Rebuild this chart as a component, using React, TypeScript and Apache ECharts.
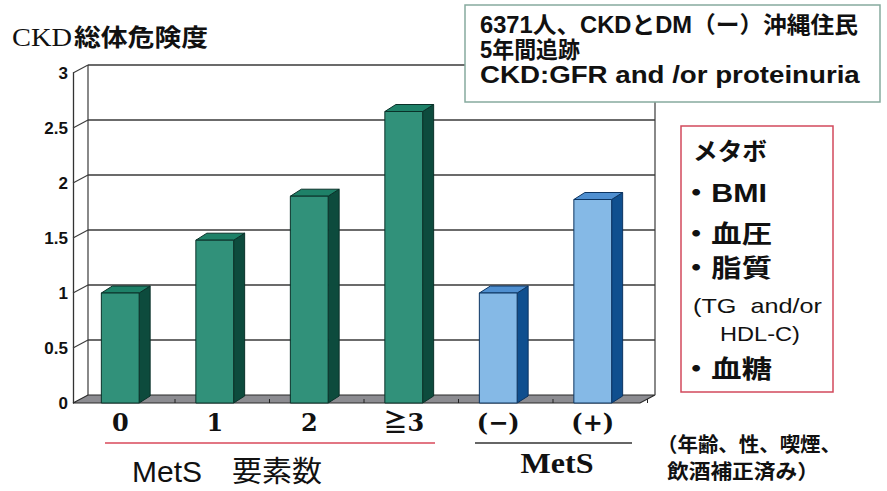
import React, { useEffect, useRef } from "react";
import * as echarts from "echarts";

const categories = ["0", "1", "2", "≧3", "(−)", "(+)"];
const riskValues = [1.0, 1.48, 1.88, 2.65, 1.0, 1.85];
const colorGroup = ["count", "count", "count", "count", "mets", "mets"];
const yTicks = [0, 0.5, 1, 1.5, 2, 2.5, 3];
const yTickLabels = ["0", "0.5", "1", "1.5", "2", "2.5", "3"];

const boxLines = ["6371人、CKDとDM（ー）沖縄住民", "5年間追跡", "CKD:GFR and /or proteinuria"];
const metsItems = ["メタボ", "・BMI", "・血圧", "・脂質", "(TG  and/or", "HDL-C)", "・血糖"];
const noteLines = ["（年齢、性、喫煙、", "飲酒補正済み）"];
const titleParts = ["CKD", "総体危険度"];
const groupLabels = ["MetS　要素数", "MetS"];

const PALETTE: Record<string, { front: string; top: string; side: string; edge: string }> = {
  count: { front: "#31917a", top: "#1e8168", side: "#0d4b3d", edge: "#0a3129" },
  mets: { front: "#85b9e6", top: "#4f8fd0", side: "#0f4f8f", edge: "#0c3461" },
};

const WDX = 15;
const WDY = -8;
const BDX = 11;
const BDY = -7;

const SANS = "'Liberation Sans', 'Noto Sans CJK JP', sans-serif";
const SERIF = "'Liberation Serif', 'Noto Sans CJK JP', serif";
const WIDE_SERIF = "'DejaVu Serif', 'Noto Sans CJK JP', serif";

function fit(text: string, weight: string, size: number, family: string, target: number) {
  try {
    const ctx = document.createElement("canvas").getContext("2d")!;
    ctx.font = `${weight} ${size}px ${family}`;
    const w = ctx.measureText(text).width;
    return w > 0 ? target / w : 1;
  } catch (e) {
    return 1;
  }
}

function txt(text: string, x: number, y: number, size: number, weight: string, family: string, target: number | null, align: string = "left") {
  const s = target ? fit(text, weight, size, family, target) : 1;
  return {
    type: "text",
    x,
    y,
    scaleX: s,
    z: 110,
    style: {
      text,
      fontSize: size,
      fontWeight: weight,
      fontFamily: family,
      fill: "#111",
      align,
      textAlign: align,
      verticalAlign: "middle",
      textVerticalAlign: "middle",
    },
  };
}

export default function App() {
  const ref = useRef<HTMLDivElement>(null);
  useEffect(() => {
    const chart = echarts.init(ref.current!, null, { renderer: "svg" });
    const n = categories.length;
    const yMax = yTicks[yTicks.length - 1];

    const frameRender = (params: any, api: any) => {
      const v = api.value(1);
      const band = api.size([1, 0])[0];
      const p = api.coord([0, v]);
      const pe = api.coord([n - 1, v]);
      const base = api.coord([0, 0])[1];
      const x0 = p[0] - band / 2;
      const x1 = pe[0] + band / 2;
      const y = p[1];
      const children: any[] = [];
      if (v === 0) {
        children.push({
          type: "polygon",
          shape: { points: [[x0, y], [x1, y], [x1 + WDX, y + WDY], [x0 + WDX, y + WDY]] },
          style: { fill: "#8c8c91", stroke: "#2a2a2a", lineWidth: 1.2 },
        });
        for (let k = 1; k <= n; k++) {
          const tx = x0 + k * band + WDX / 2;
          children.push({
            type: "line",
            shape: { x1: tx, y1: y + WDY / 2, x2: tx, y2: y + WDY / 2 + 4 },
            style: { stroke: "#222", lineWidth: 1 },
          });
        }
      } else {
        children.push({
          type: "line",
          shape: { x1: x0 + WDX, y1: y + WDY, x2: x1 + WDX, y2: y + WDY },
          style: { stroke: "#3a3a3a", lineWidth: 1.3 },
        });
        children.push({
          type: "line",
          shape: { x1: x0, y1: y, x2: x0 + WDX, y2: y + WDY },
          style: { stroke: "#3a3a3a", lineWidth: 1.1 },
        });
      }
      if (v === yMax) {
        children.push({
          type: "line",
          shape: { x1: x0 + WDX, y1: y + WDY, x2: x0 + WDX, y2: base + WDY },
          style: { stroke: "#3a3a3a", lineWidth: 1.2 },
        });
        children.push({
          type: "line",
          shape: { x1: x1 + WDX, y1: y + WDY, x2: x1 + WDX, y2: base + WDY },
          style: { stroke: "#3a3a3a", lineWidth: 1.2 },
        });
      }
      return { type: "group", children };
    };

    const barRender = (params: any, api: any) => {
      const idx = api.value(0);
      const v = api.value(1);
      const top = api.coord([idx, v]);
      const bottom = api.coord([idx, 0]);
      const band = api.size([1, 0])[0];
      const w = band * 0.4;
      const xl = top[0] - w / 2;
      const xr = top[0] + w / 2;
      const yt = top[1];
      const yb = bottom[1];
      const c = PALETTE[colorGroup[params.dataIndex]];
      return {
        type: "group",
        children: [
          {
            type: "polygon",
            shape: { points: [[xr, yt], [xr, yb], [xr + BDX, yb + BDY], [xr + BDX, yt + BDY]] },
            style: { fill: c.side, stroke: c.edge, lineWidth: 1 },
          },
          {
            type: "polygon",
            shape: { points: [[xl, yt], [xr, yt], [xr + BDX, yt + BDY], [xl + BDX, yt + BDY]] },
            style: { fill: c.top, stroke: c.edge, lineWidth: 1 },
          },
          {
            type: "rect",
            shape: { x: xl, y: yt, width: w, height: yb - yt },
            style: { fill: c.front, stroke: c.edge, lineWidth: 1 },
          },
        ],
      };
    };

    const graphics: any[] = [
      txt(titleParts[0], 12, 38, 25, "normal", SERIF, 60),
      txt(titleParts[1], 74, 38, 24, "bold", SANS, 134),
      {
        type: "rect",
        z: 105,
        shape: { x: 465, y: 5, width: 415, height: 97 },
        style: { fill: "#fff", stroke: "#86ab9f", lineWidth: 1.5 },
      },
      txt(boxLines[0], 480, 25, 23, "bold", SANS, 378),
      txt(boxLines[1], 480, 50, 23, "bold", SANS, 100),
      txt(boxLines[2], 480, 75, 23, "bold", SANS, 380),
      {
        type: "rect",
        z: 105,
        shape: { x: 681, y: 126, width: 152, height: 266 },
        style: { fill: "#fff", stroke: "#d24a5c", lineWidth: 1.5 },
      },
      txt(metsItems[0], 693, 152, 24, "bold", SANS, 74),
      txt(metsItems[1], 681, 193, 25, "bold", SANS, 86),
      txt(metsItems[2], 681, 234, 25, "bold", SANS, 91),
      txt(metsItems[3], 681, 268, 25, "bold", SANS, 91),
      txt(metsItems[4], 693, 306, 21, "normal", SANS, 129),
      txt(metsItems[5], 720, 334, 21, "normal", SANS, 80),
      txt(metsItems[6], 681, 369, 25, "bold", SANS, 91),
      {
        type: "line",
        z: 105,
        shape: { x1: 105, y1: 443, x2: 435, y2: 443 },
        style: { stroke: "#d9485a", lineWidth: 1.5 },
      },
      {
        type: "line",
        z: 105,
        shape: { x1: 475, y1: 443, x2: 632, y2: 443 },
        style: { stroke: "#333", lineWidth: 1.5 },
      },
      txt(groupLabels[0], 132, 472, 29, "normal", SANS, 190),
      txt(groupLabels[1], 557, 463, 30, "bold", SERIF, 73, "center"),
      txt(noteLines[0], 657, 445, 20, "bold", SANS, 184),
      txt(noteLines[1], 667, 472, 20, "bold", SANS, 152),
    ];

    chart.setOption({
      animation: false,
      backgroundColor: "#ffffff",
      grid: { left: 73, top: 73, width: 567, height: 330 },
      xAxis: {
        type: "category",
        data: categories,
        axisLine: { show: false },
        axisTick: { show: false },
        axisLabel: {
          margin: 7,
          color: "#111",
          fontSize: 24,
          fontWeight: "bold",
          fontFamily: WIDE_SERIF,
        },
      },
      yAxis: {
        type: "value",
        min: 0,
        max: yMax,
        interval: 0.5,
        axisLine: { show: true, lineStyle: { color: "#333", width: 1.3 } },
        axisTick: { show: false },
        splitLine: { show: false },
        axisLabel: {
          margin: 5,
          color: "#111",
          fontSize: 17,
          fontWeight: "bold",
          fontFamily: SANS,
          formatter: (val: number) => {
            const i = yTicks.indexOf(val);
            return i >= 0 ? yTickLabels[i] : String(val);
          },
        },
      },
      series: [
        {
          type: "custom",
          name: "frame",
          z: 1,
          clip: false,
          silent: true,
          renderItem: frameRender,
          data: yTicks.map((v) => [0, v]),
        },
        {
          type: "custom",
          name: "CKD総体危険度",
          z: 3,
          clip: false,
          renderItem: barRender,
          data: riskValues.map((v, i) => [i, v]),
        },
      ],
      graphic: graphics,
    });
    return () => chart.dispose();
  }, []);
  return (
    <div
      ref={ref}
      style={{ position: "fixed", left: 0, top: 0, width: 887, height: 491, background: "#fff" }}
    />
  );
}
